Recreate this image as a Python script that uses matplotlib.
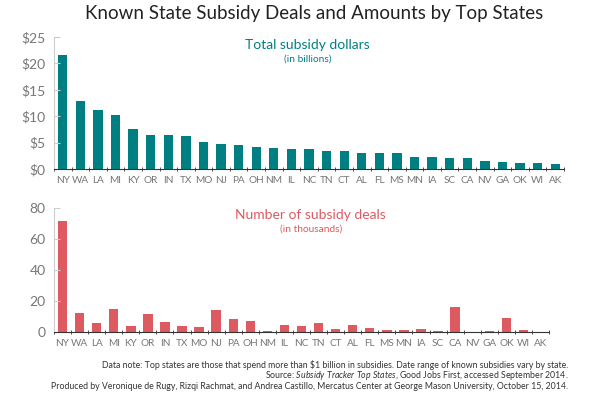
import numpy as np
import matplotlib
matplotlib.use("Agg")
import matplotlib.pyplot as plt
from matplotlib.ticker import FixedLocator

plt.rcParams['font.family'] = ['Lato', 'DejaVu Sans']
plt.rcParams['mathtext.fontset'] = 'custom'
plt.rcParams['mathtext.it'] = 'Lato:italic'
plt.rcParams['mathtext.rm'] = 'Lato'

states_top = ['NY', 'WA', 'LA', 'MI', 'KY', 'OR', 'IN', 'TX', 'MO', 'NJ', 'PA', 'OH', 'NM', 'IL',
              'NC', 'TN', 'CT', 'AL', 'FL', 'MS', 'MN', 'IA', 'SC', 'CA', 'NV', 'GA', 'OK', 'WI', 'AK']
dollars = [21.6, 12.9, 11.2, 10.3, 7.5, 6.5, 6.5, 6.3, 5.2, 4.7, 4.5, 4.1, 4.0, 3.7,
           3.7, 3.5, 3.4, 3.1, 3.1, 3.0, 2.3, 2.2, 2.0, 2.0, 1.5, 1.3, 1.1, 1.1, 0.9]

states_bottom = ['NY', 'WA', 'LA', 'MI', 'KY', 'OR', 'IN', 'TX', 'MO', 'NJ', 'PA', 'OH', 'NM', 'IL',
                 'NC', 'TN', 'CT', 'AL', 'FL', 'MS', 'MN', 'IA', 'SC', 'CA', 'NV', 'GA', 'OK', 'WI', 'AK']
deals = [71.8, 12.5, 6.1, 15.1, 4.1, 11.5, 6.7, 3.7, 3.5, 14.3, 8.6, 7.1, 0.9, 4.5,
         3.9, 6.1, 1.7, 4.8, 2.6, 1.5, 1.1, 2.2, 0.9, 16.4, 0.2, 0.4, 8.9, 1.1, 0.1]

teal = '#007f83'
red = '#de5a61'
gray = '#777777'

fig = plt.figure(figsize=(6, 3.99), dpi=100)
fig.text(0.523, 0.965, 'Known State Subsidy Deals and Amounts by Top States',
         ha='center', va='center', fontsize=13.5, color='#222222')


def style(ax, n, labels, yticks, ylabels):
    ax.set_xlim(-0.5, n - 0.5)
    for s in ['top', 'right']:
        ax.spines[s].set_visible(False)
    ax.spines['left'].set_color('#cccccc')
    ax.spines['bottom'].set_color('#333333')
    ax.set_xticks(range(n))
    ax.set_xticklabels(labels, fontsize=7.2, color=gray)
    ax.tick_params(axis='x', length=0, pad=5)
    ax.xaxis.set_minor_locator(FixedLocator(np.arange(-0.5, n, 1)))
    ax.tick_params(axis='x', which='minor', length=3, direction='inout', color='#333333')
    ax.set_yticks(yticks)
    ax.set_yticklabels(ylabels, fontsize=10, color=gray)
    ax.tick_params(axis='y', length=4, direction='in', color='#cccccc', pad=6)


ax1 = fig.add_axes([0.09, 0.5764, 0.85, 0.331])
x1 = np.arange(len(states_top))
ax1.bar(x1, dollars, width=0.53, color=teal)
ax1.set_ylim(0, 25)
style(ax1, len(states_top), states_top, [0, 5, 10, 15, 20, 25],
      ['$0', '$5', '$10', '$15', '$20', '$25'])
fig.text(0.513, 0.887, 'Total subsidy dollars', ha='center', va='center', fontsize=10, color=teal)
fig.text(0.513, 0.853, '(in billions)', ha='center', va='center', fontsize=7.3, color=teal)

ax2 = fig.add_axes([0.09, 0.168, 0.825, 0.3107])
x2 = np.arange(len(states_bottom))
ax2.bar(x2, deals, width=0.55, color=red)
ax2.set_ylim(0, 80)
style(ax2, len(states_bottom), states_bottom, [0, 20, 40, 60, 80],
      ['0', '20', '40', '60', '80'])
fig.text(0.518, 0.461, 'Number of subsidy deals', ha='center', va='center', fontsize=10, color=red)
fig.text(0.518, 0.426, '(in thousands)', ha='center', va='center', fontsize=7.3, color=red)

fs = 6.3
fig.text(0.947, 0.085, 'Data note: Top states are those that spend more than \\$1 billion in subsidies. '
         'Date range of known subsidies vary by state.', ha='right', va='center', fontsize=fs, color='#333333')
fig.text(0.947, 0.058, 'Source: $\\it{Subsidy\\ Tracker\\ Top\\ States}$, Good Jobs First, accessed September 2014.',
         ha='right', va='center', fontsize=fs, color='#333333')
fig.text(0.947, 0.031, 'Produced by Veronique de Rugy, Rizqi Rachmat, and Andrea Castillo, Mercatus Center at '
         'George Mason University, October 15, 2014.', ha='right', va='center', fontsize=fs, color='#333333')

fig.savefig('out.png', dpi=100)
